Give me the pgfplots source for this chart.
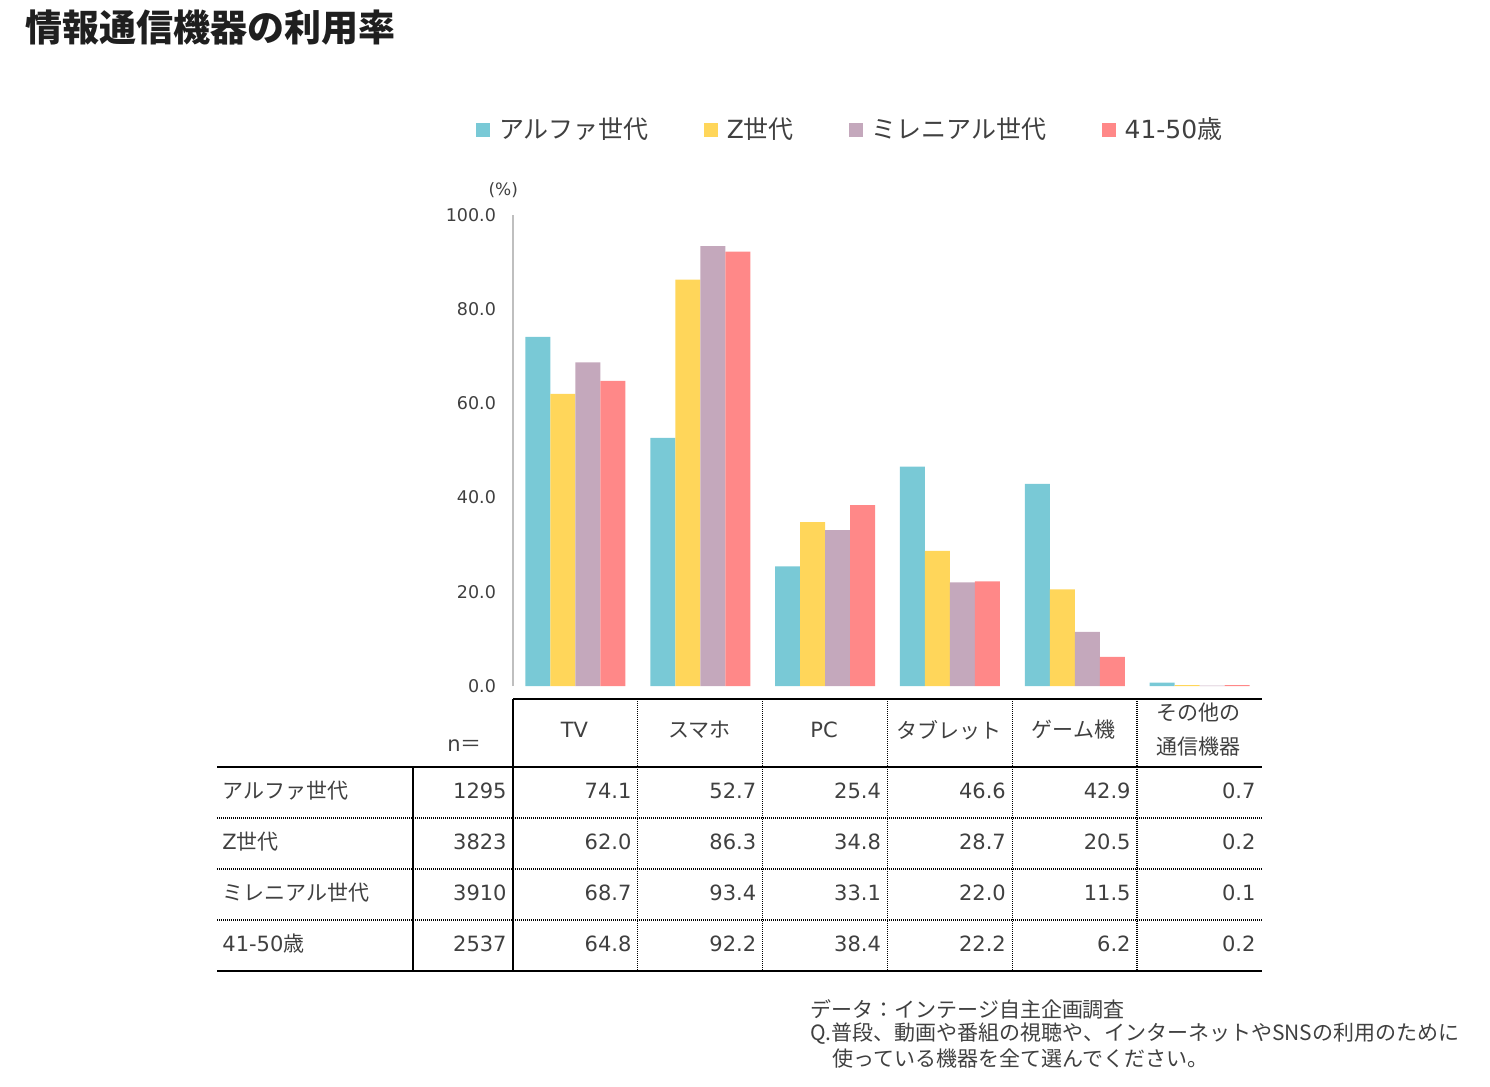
\documentclass[border=0pt]{standalone}
\usepackage{pgfplots}
\pgfplotsset{compat=1.18}
\usepackage{pgfplotstable}
\usepackage{fontspec}
\setmainfont{DejaVu Sans}
\newfontfamily\jp{Noto Sans CJK JP}

\definecolor{calpha}{HTML}{79C9D6}
\definecolor{czgen}{HTML}{FFD65A}
\definecolor{cmill}{HTML}{C4A8BC}
\definecolor{cage}{HTML}{FF8888}
\definecolor{txt}{HTML}{404040}
\definecolor{axisgray}{HTML}{BFBFBF}

% usage rates (%) by device (rows) and generation (columns)
\pgfplotstableread{
idx alpha zgen mill age
0 74.1 62.0 68.7 64.8
1 52.7 86.3 93.4 92.2
2 25.4 34.8 33.1 38.4
3 46.6 28.7 22.0 22.2
4 42.9 20.5 11.5 6.2
5 0.7 0.2 0.1 0.2
}\rates

\newcommand\tfont{\fontsize{10.5}{12}\selectfont}

\begin{document}
\begin{tikzpicture}
\begin{scope}[x=0.5pt,y=-0.5pt]
\path[use as bounding box] (0,0) rectangle (1490,1087);
\end{scope}

\begin{axis}[
  at={(256.5pt,-343pt)}, anchor=south west,
  scale only axis, width=374.5pt, height=235.5pt,
  xmin=-0.5, xmax=5.5, ymin=0, ymax=100,
  enlargelimits=false, clip=false,
  axis lines*=left,
  x axis line style={draw=none},
  y axis line style={draw=axisgray, line width=0.7pt},
  xtick=\empty,
  ytick={0,20,40,60,80,100},
  major tick length=0pt,
  /pgf/number format/.cd, fixed, fixed zerofill, precision=1, 1000 sep={}, assume math mode=true,
  /pgfplots/.cd,
  yticklabel style={text=txt, font=\fontsize{8.75}{10}\selectfont, xshift=-5pt},
  ybar, bar width=12.5pt,
  legend columns=4,
  legend style={at={(-0.0494,1.1805)}, anchor=west, draw=none, fill=none,
    inner sep=0pt, outer sep=0pt,
    font=\fontsize{12.5}{14}\selectfont, text=txt,
    /tikz/every even column/.append style={column sep=25.5pt}},
  legend image code/.code={\fill[#1] (0pt,-3.5pt) rectangle (7pt,3.5pt); \path (9.5pt,0pt);},
]
\addplot[fill=calpha, draw=none, bar shift=-18.75pt] table[x=idx, y=alpha] {\rates};
\addlegendentry{\jp アルファ世代}
\addplot[fill=czgen, draw=none, bar shift=-6.25pt] table[x=idx, y=zgen] {\rates};
\addlegendentry{Z\jp 世代}
\addplot[fill=cmill, draw=none, bar shift=6.25pt] table[x=idx, y=mill] {\rates};
\addlegendentry{\jp ミレニアル世代}
\addplot[fill=cage, draw=none, bar shift=18.75pt] table[x=idx, y=age] {\rates};
\addlegendentry{41-50\jp 歳}
\node[text=txt, font=\fontsize{8.5}{10}\selectfont] at (rel axis cs:-0.013,1.053) {(\%)};
\end{axis}

\begin{scope}[x=0.5pt,y=-0.5pt]
% title
\node[anchor=west, text=black!88, font=\jp\bfseries\fontsize{18.5}{20}\selectfont, inner sep=0pt] at (25,28) {情報通信機器の利用率};

% table rules
\tikzset{fine dots/.style={line width=0.6pt, dash pattern=on 0.5pt off 0.5pt}}
\draw[line width=1.1pt] (513,699) -- (1262,699);
\draw[line width=0.6pt] (217,767) -- (1262,767);
\foreach \y in {818,869,920} \draw[fine dots] (217,\y) -- (1262,\y);
\draw[line width=0.6pt] (217,971) -- (1262,971);
\draw[line width=0.6pt] (413,767) -- (413,971);
\draw[line width=0.6pt] (513,699) -- (513,971);
\foreach \k in {1,...,5} \draw[fine dots] ({513+124.8*\k},699) -- ({513+124.8*\k},971);

% header
\begin{scope}[every node/.style={text=txt, font=\tfont, inner sep=0pt}]
\node[anchor=west] at (447,746) {n\jp ＝};
\node at (574.5,730) {TV};
\node at (699.2,730) {\jp スマホ};
\node at (824,730) {PC};
\node at (948.8,730) {\jp タブレット};
\node at (1073.6,730) {\jp ゲーム機};
\node at (1198.4,713) {\jp その他の};
\node at (1198.4,747) {\jp 通信機器};

% row labels and sample sizes
\node[anchor=west] at (222,791) {\jp アルファ世代};
\node[anchor=west] at (222,842) {Z\jp 世代};
\node[anchor=west] at (222,893) {\jp ミレニアル世代};
\node[anchor=west] at (222,944) {41-50\jp 歳};
\node[anchor=east] at (507,791) {1295};
\node[anchor=east] at (507,842) {3823};
\node[anchor=east] at (507,893) {3910};
\node[anchor=east] at (507,944) {2537};

% values from the same table as the bars
\foreach \col [count=\r from 0] in {alpha,zgen,mill,age} {
  \foreach \c in {0,...,5} {
    \pgfplotstablegetelem{\c}{\col}\of\rates
    \node[anchor=east] at ({513+124.8*(\c+1)-6},{791+51*\r}) {\pgfplotsretval};
  }
}

% source note
\node[anchor=west] at (810,1009) {\jp データ：インテージ自主企画調査};
\node[anchor=west] at (810,1034) {\jp Q.普段、動画や番組の視聴や、インターネットやSNSの利用のために};
\node[anchor=west] at (832,1059) {\jp 使っている機器を全て選んでください。};
\end{scope}
\end{scope}
\end{tikzpicture}
\end{document}
